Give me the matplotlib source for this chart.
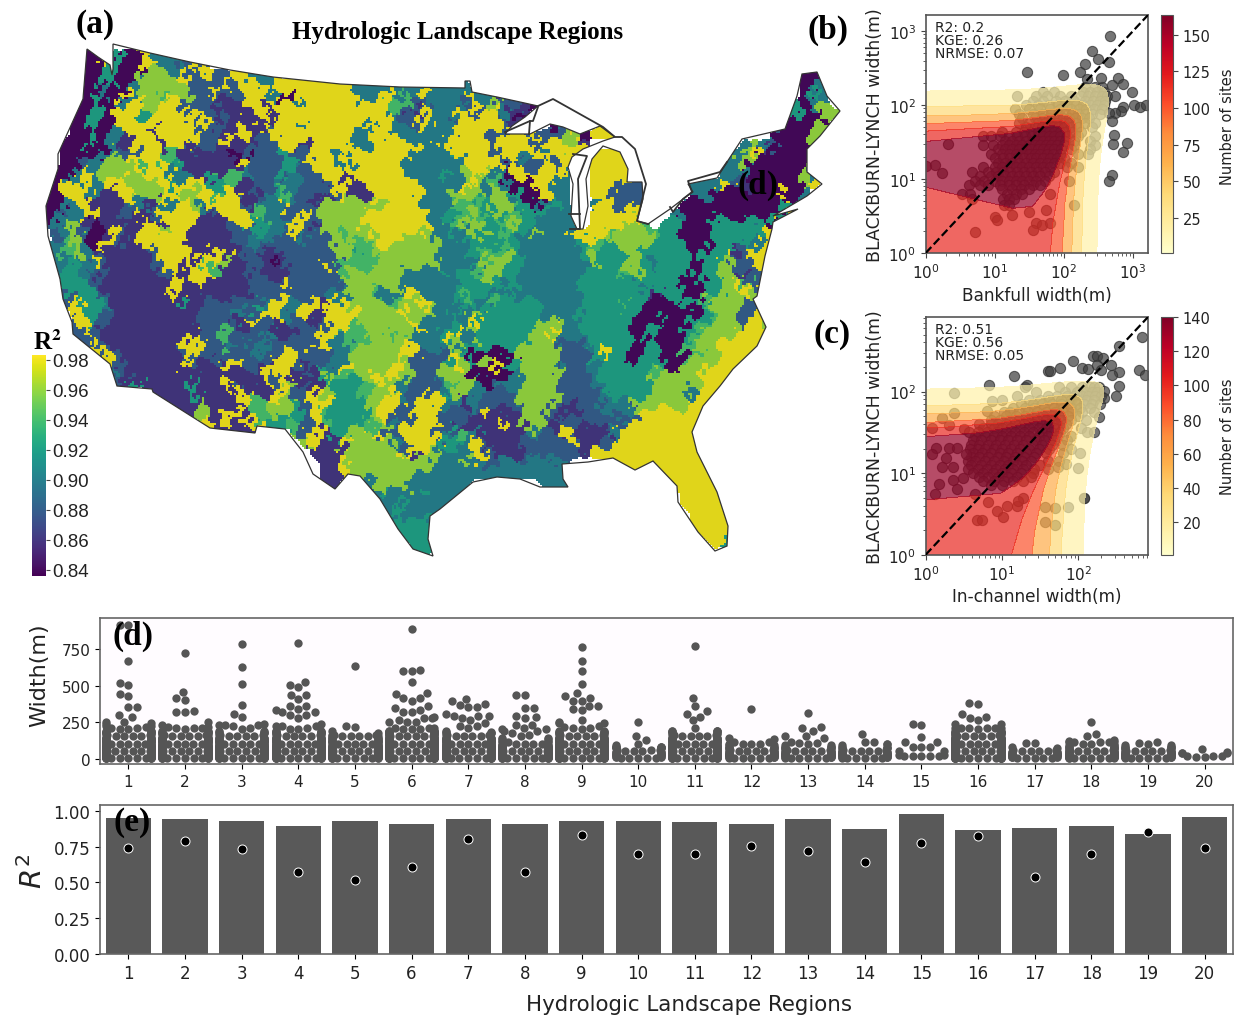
import numpy as np
import matplotlib
matplotlib.use("Agg")
import matplotlib.pyplot as plt
import seaborn as sns
from matplotlib.cm import ScalarMappable
from matplotlib.colors import ListedColormap, Normalize
from matplotlib.patches import Polygon

W, H = 1238, 1020

# map: R2 class of each 10 px cell, 0 -> 0.84 ... 7 -> 0.98, "." = no data
map_x0, map_x1, map_y0, map_y1 = 40, 840, 40, 560
map_rows = [
    ".......... .......... .......... .......... .......... .......... .......... ..........",
    "....00.400 7333...... .......... .......... .......... .......... .......... ..........",
    "....007400 7733273... .......... .......... .......... .......... .......... ..........",
    "....004400 6663727227 7333...... .......... .......... .......... .......... ......003.",
    "....004003 6666722272 7737777777 7333333333 333....... .......... .......... ......033.",
    "....003073 6656622722 7773077777 7333735373 3373331... .......... .......... ......043.",
    "...0040037 6677222211 7717737777 7773755223 3327262210 .......... .......... .....4036.",
    "...0040777 4777772121 1771777777 7777732173 337277310. .......... .......... .....40066",
    "...0040777 7777727211 1117773777 7773732273 32777721.. .03...7... .......... ....00060.",
    "...0040317 7177772217 7127777777 7337733333 3777727727 22660777.. .......... ...000066.",
    "..00400317 7717722271 1222771777 7337777737 3777727772 77671..... .......... 363200066.",
    "..00003622 7755111110 0222422773 3777777333 3477727737 3777.7777. .........3 671000063.",
    "..00236667 5754111111 7222442773 7377773333 3337772722 727..7777. ........33 600000063.",
    ".003736666 7773311155 3222432277 1777773333 4367630772 773..7777. ........33 30000063..",
    ".073737776 6674774445 1222332227 7177777733 3376353007 733..77722 2....33372 10000067..",
    ".077731177 6677667577 1124532212 7117777733 3666366400 733..77222 2....33000 0000703...",
    "0033711123 3133763777 2133722166 6666677733 3555466340 343..37227 2...000000 0000403...",
    "0023771127 1277771277 7553227266 6677777773 4456546544 4333.77777 ...3000000 000477....",
    "0336101711 7117711112 7443372166 6677777773 3566445643 3333.77776 5.44000444 44407.....",
    ".236201721 7767711112 2433273266 5667777763 3434645436 3337776566 6544000444 4377......",
    ".356307211 7777111112 2322222226 6556766666 3334445433 3333454666 6444400444 4377......",
    ".356321111 1277717771 2211222222 6455666666 3344556433 3333464446 4444404471 277.......",
    ".334372111 1277175761 1210122272 5556666666 3333666433 3333364466 4344404462 277.......",
    ".344321111 1127177511 1211122227 5666663333 4345664433 3333444456 4444404466 1277......",
    "..44421111 1117117111 1222722222 6666663333 3344443433 3333444444 3444004467 5277......",
    "..24442111 1117111111 1222222223 3665337733 3454434333 3333444444 4144000466 7627......",
    "..27443111 1111412222 2437737717 7666656676 3343354444 3333444454 0000445666 227.......",
    "...7742111 1111112223 3277327177 7766667663 3436444444 3333444444 0040004566 277.......",
    "...2742111 1111112221 1721122127 7566666733 3437444444 6633444440 0400045666 2766......",
    "...2721111 1111172252 2223112277 5556656373 4736444446 6733444440 0400456667 7776......",
    "....272111 1111772253 2332222773 3566667333 3634444466 6622347440 4400566677 777.......",
    ".....27211 1111272222 2322772223 3666667722 2640000066 6622247440 4400056677 77........",
    "......7211 1111721177 2217721223 7666676222 4764674466 6322234440 4400566777 7.........",
    ".......321 1111111111 1172712146 5667676222 6600000366 6622234444 4566667777 ..........",
    ".......214 1111141171 2172761164 4456763222 3563023366 6622234444 466636777. ..........",
    ".......... .111141117 7117622764 4456673227 4663222366 6622223444 46666377.. ..........",
    ".......... ..11116111 7556642774 4446772277 3313222266 6211223336 66666777.. ..........",
    ".......... ....166177 1556642754 4446722777 2221711166 6211222332 7777777... ..........",
    ".......... ......7171 7744452754 4455632777 2211117166 2122112227 7777777... ..........",
    ".......... .......111 11...62714 4667227772 3453111113 2177111377 777777.... ..........",
    ".......... .......... ......6711 7666632777 4437211122 2222112777 777777.... ..........",
    ".......... .......... .......111 6666667176 3337721123 2222177777 7777777... ..........",
    ".......... .......... ........11 7666666663 3363223333 333....777 7777777... ..........",
    ".......... .......... ........11 7666666633 3333333333 333....... ..777777.. ..........",
    ".......... .......... ........11 .333666333 333....... 333....... ...77777.. ..........",
    ".......... .......... .......... ...3433343 33........ .......... ....77777. ..........",
    ".......... .......... .......... ....334333 3......... .......... ....77777. ..........",
    ".......... .......... .......... ....343333 .......... .......... .....7777. ..........",
    ".......... .......... .......... .....44444 .......... .......... .....7777. ..........",
    ".......... .......... .......... ......4444 .......... .......... ......777. ..........",
    ".......... .......... .......... .......444 .......... .......... .......74. ..........",
    ".......... .......... .......... .......44. .......... .......... .......... ..........",
]

# country outline, picture pixels
outline_x = [87, 98, 110, 112, 113, 113, 150, 190, 230, 273, 340, 400, 465, 465, 470, 472, 497, 520, 538,
             525, 512, 505, 530, 550, 563, 580, 600, 615, 603, 583, 572, 568, 573, 571, 577, 583, 588, 586,
             592, 603, 620, 628, 627, 642, 643, 637, 648, 670, 687, 693, 688, 717, 727, 742, 785, 797, 802,
             817, 827, 840, 820, 807, 807, 822, 807, 773, 798, 773, 772, 765, 757, 753, 766, 757, 733, 720,
             703, 692, 697, 717, 728, 727, 715, 698, 678, 677, 653, 635, 613, 588, 562, 563, 568, 540, 520,
             497, 473, 440, 430, 428, 433, 413, 398, 380, 360, 348, 335, 313, 303, 285, 257, 255, 210, 153,
             152, 117, 110, 73, 72, 63, 60, 48, 46, 58, 58, 83]
outline_y = [50, 58, 66, 76, 70, 45, 54, 63, 71, 78, 85, 88, 89, 82, 82, 93, 98, 103, 107,
             118, 127, 135, 135, 125, 128, 135, 127, 138, 142, 150, 158, 168, 185, 217, 230, 230, 207, 180,
             160, 147, 153, 170, 183, 183, 200, 222, 225, 210, 197, 193, 185, 179, 163, 140, 130, 97, 75,
             73, 97, 112, 137, 150, 173, 185, 197, 217, 210, 223, 230, 257, 297, 300, 328, 347, 370, 387,
             407, 433, 453, 493, 527, 547, 552, 533, 503, 487, 462, 471, 459, 463, 465, 480, 488, 488, 480,
             478, 483, 510, 517, 540, 557, 550, 530, 500, 477, 475, 490, 475, 453, 430, 427, 434, 429, 393,
             390, 387, 365, 335, 323, 300, 280, 237, 207, 170, 155, 100]

# open-water lines around the lakes
lake_x = [[538, 553, 603, 615, 622, 635, 646, 637, 648], [505, 530, 533, 538], [530, 529],
          [573, 587, 578, 580, 570], [569, 580], [670, 673, 683, 692, 688, 720, 727]]
lake_y = [[107, 100, 128, 138, 138, 150, 185, 222, 225], [133, 122, 122, 108], [122, 135],
          [155, 157, 180, 230, 230], [215, 215], [208, 213, 200, 193, 182, 173, 163]]

# (b) log10 of widths, listed by rows of log10 model width
b_y_levels = [2.25, 2.18, 2.12, 2.06, 2.0, 1.94, 1.88, 1.82, 1.76, 1.7, 1.64, 1.58, 1.52, 1.46, 1.4, 1.34,
              1.28, 1.22, 1.16, 1.1, 1.04, 0.98, 0.92, 0.86, 0.8, 0.73, 0.65]
b_x_rows = [
    [2.30, 2.45, 2.55],
    [1.70, 1.85, 2.28, 2.38, 2.48, 2.58],
    [1.32, 1.6, 1.75, 1.95, 2.1, 2.25, 2.35, 2.45, 2.55, 2.62],
    [1.55, 1.7, 1.88, 2.02, 2.15, 2.3, 2.42, 2.52, 2.6],
    [1.45, 1.62, 1.78, 1.92, 2.05, 2.18, 2.28, 2.38, 2.48, 2.58],
    [1.29, 1.5, 1.65, 1.8, 1.95, 2.1, 2.22, 2.32, 2.44, 2.55],
    [1.35, 1.55, 1.7, 1.82, 1.92, 2.02, 2.12, 2.2, 2.3, 2.4, 2.52],
    [1.4, 1.58, 1.68, 1.78, 1.88, 1.98, 2.08, 2.16, 2.26, 2.36],
    [1.35, 1.5, 1.62, 1.72, 1.82, 1.9, 2.0, 2.08, 2.18, 2.3, 2.45],
    [1.45, 1.58, 1.68, 1.76, 1.84, 1.92, 2.0, 2.1, 2.2, 2.4],
    [1.1, 1.3, 1.42, 1.52, 1.62, 1.7, 1.78, 1.86, 1.94, 2.02, 2.12, 2.25],
    [0.83, 0.95, 1.08, 1.2, 1.32, 1.44, 1.54, 1.62, 1.7, 1.78, 1.86, 1.95, 2.05, 2.2, 2.45],
    [1.15, 1.25, 1.35, 1.45, 1.55, 1.62, 1.7, 1.78, 1.86, 1.94, 2.02, 2.15, 2.38],
    [0.83, 0.97, 1.1, 1.2, 1.3, 1.4, 1.5, 1.58, 1.66, 1.74, 1.82, 1.9, 2.0, 2.15, 2.45],
    [1.05, 1.15, 1.25, 1.35, 1.45, 1.53, 1.62, 1.7, 1.78, 1.86, 1.96, 2.1, 2.38],
    [0.95, 1.1, 1.2, 1.3, 1.4, 1.5, 1.58, 1.66, 1.75, 1.84, 1.95, 2.2, 2.35],
    [1.0, 1.12, 1.22, 1.32, 1.42, 1.52, 1.6, 1.7, 1.8, 1.9, 2.0],
    [1.05, 1.15, 1.25, 1.35, 1.45, 1.55, 1.65, 1.75, 1.85, 1.95, 2.1],
    [0.83, 1.0, 1.1, 1.2, 1.3, 1.4, 1.5, 1.6, 1.7, 1.8, 2.05, 2.2],
    [0.67, 0.9, 1.02, 1.12, 1.22, 1.32, 1.42, 1.52, 1.62, 1.72, 1.85],
    [0.78, 0.95, 1.05, 1.15, 1.25, 1.35, 1.45, 1.55, 1.65, 1.78],
    [0.72, 0.85, 1.0, 1.1, 1.2, 1.3, 1.4, 1.5, 1.6, 1.72, 2.08],
    [0.62, 0.78, 0.9, 1.08, 1.2, 1.3, 1.42, 1.55, 1.65],
    [1.1, 1.25, 1.38, 1.5],
    [0.52, 0.64, 1.18, 1.3, 1.4, 1.8],
    [0.67, 1.12, 1.2, 1.28],
    [1.14, 1.2, 2.14],
]
b_extra_x = [2.67, 2.41, 2.31, 2.50, 2.65, 2.24, 1.99, 1.46, 2.34, 2.53, 2.79, 2.70, 2.86, 2.99, 2.74, 3.02, 3.10,
             3.19, 2.86, 2.82, 2.74, 2.65, 2.70, 2.72, 2.71, 2.91, 2.85, 2.69, 2.66, 0.32, 0.01, 0.13, 0.23, 0.72,
             1.0, 1.03, 1.25, 1.49, 1.74, 1.6, 1.56, 1.68, 1.8]
b_extra_y = [2.94, 2.73, 2.56, 2.62, 2.58, 2.45, 2.41, 2.45, 2.35, 2.36, 2.36, 2.27, 2.29, 2.18, 2.12, 2.0, 1.97,
             2.0, 1.98, 1.92, 1.89, 1.89, 1.79, 1.60, 1.47, 1.49, 1.37, 1.06, 0.97, 1.48, 1.18, 1.19, 1.08, 0.29,
             0.48, 0.45, 0.52, 0.55, 0.58, 0.41, 0.31, 0.38, 0.41]

# (c) same layout
c_y_levels = [2.05, 2.0, 1.95, 1.9, 1.85, 1.8, 1.75, 1.7, 1.65, 1.6, 1.55, 1.5, 1.45, 1.4, 1.35, 1.3, 1.25, 1.2,
              1.15, 1.1, 1.05, 1.0, 0.95, 0.9, 0.85]
c_x_rows = [
    [1.3, 1.75, 1.9, 2.05, 2.15, 2.2, 2.27],
    [1.45, 1.82, 1.98, 2.1, 2.18, 2.25],
    [1.2, 1.6, 1.72, 1.85, 1.95, 2.05, 2.13, 2.22, 2.3],
    [1.0, 1.35, 1.5, 1.62, 1.78, 1.9, 2.0, 2.1, 2.2],
    [1.25, 1.4, 1.52, 1.65, 1.78, 1.88, 1.98, 2.08, 2.18, 2.28],
    [1.15, 1.3, 1.42, 1.55, 1.68, 1.8, 1.9, 2.02, 2.15],
    [1.02, 1.1, 1.22, 1.34, 1.46, 1.58, 1.7, 1.8, 1.92, 2.05, 2.2],
    [0.9, 1.05, 1.18, 1.3, 1.42, 1.54, 1.65, 1.75, 1.87, 2.0],
    [0.85, 0.98, 1.1, 1.22, 1.34, 1.46, 1.58, 1.68, 1.78, 1.9, 2.1],
    [0.7, 0.85, 0.95, 1.05, 1.17, 1.29, 1.41, 1.52, 1.62, 1.72, 1.84],
    [0.75, 0.9, 1.0, 1.12, 1.24, 1.36, 1.48, 1.58, 1.68, 1.8, 2.03],
    [0.68, 0.8, 0.93, 1.05, 1.17, 1.29, 1.41, 1.53, 1.64, 1.76, 2.12],
    [0.65, 0.78, 0.9, 1.0, 1.12, 1.24, 1.36, 1.48, 1.6, 1.72, 1.9],
    [0.62, 0.72, 0.85, 0.97, 1.08, 1.2, 1.32, 1.44, 1.55, 1.68, 1.85],
    [0.6, 0.7, 0.82, 0.92, 1.04, 1.16, 1.28, 1.4, 1.52, 1.65, 1.8],
    [0.58, 0.68, 0.78, 0.9, 1.0, 1.12, 1.24, 1.36, 1.48, 1.62, 1.9],
    [0.62, 0.74, 0.85, 0.97, 1.08, 1.2, 1.32, 1.44, 1.58, 1.8],
    [0.6, 0.7, 0.82, 0.95, 1.05, 1.17, 1.29, 1.42],
    [0.55, 0.65, 0.78, 0.9, 1.02, 1.14, 1.26, 1.38, 1.6, 1.75],
    [0.6, 0.72, 0.85, 0.97, 1.08, 1.2, 1.32, 1.5],
    [0.55, 0.68, 0.8, 0.92, 1.04, 1.15, 1.28, 1.42, 1.6],
    [0.62, 0.75, 0.88, 1.0, 1.12, 1.25, 1.4],
    [0.7, 0.82, 0.95, 1.08, 1.2, 1.38],
    [0.75, 0.9, 1.02, 1.15, 1.28],
    [0.85, 1.0],
]
c_extra_x = [2.84, 2.53, 2.19, 2.25, 2.32, 1.93, 1.76, 1.6, 1.63, 1.16, 0.83, 1.33, 2.05, 2.13, 2.25, 2.43, 2.3, 2.53,
             2.44, 2.79, 2.88, 2.54, 2.49, 2.34, 2.34, 2.27, 2.21, 2.08, 0.37, 0.87, 0.8, 0.37, 0.22, 0.3, 0.08, 0.5,
             0.57, 0.14, 0.08, 0.3, 0.41, 0.26, 0.53, 0.21, 0.36, 0.36, 0.49, 0.41, 0.17, 0.12, 0.64, 0.82, 0.93,
             1.06, 1.2, 1.27, 1.21, 0.67, 0.74, 1.01, 1.56, 1.69, 1.87, 1.56, 1.7, 1.99, 2.02, 1.84, 1.73, 2.07]
c_extra_y = [2.67, 2.56, 2.43, 2.44, 2.41, 2.37, 2.29, 2.25, 2.25, 2.19, 2.08, 2.08, 2.29, 2.28, 2.33, 2.33, 2.26, 2.24,
             2.2, 2.26, 2.2, 2.07, 1.95, 2.01, 1.92, 1.69, 1.5, 0.7, 1.98, 1.88, 1.76, 1.74, 1.67, 1.59, 1.55, 1.54,
             1.51, 1.31, 1.23, 1.31, 1.31, 1.19, 1.23, 1.07, 1.07, 0.92, 0.94, 0.8, 0.87, 0.75, 0.74, 0.64, 0.54,
             0.6, 0.6, 0.7, 0.66, 0.43, 0.43, 0.46, 0.59, 0.57, 0.59, 0.4, 0.37, 1.06, 1.25, 1.11, 1.07, 0.7]

# (d) widths per region: rows of small widths as counts, larger ones listed
bulk_levels = [5, 25, 45, 65, 85, 105, 125, 145, 165, 185, 205]
bulk_levels_alt = [15, 35, 55, 75, 95, 115, 135, 155, 175, 195, 215]
bulk_counts = [
    [12, 11, 10, 9, 8, 7, 6, 5, 4, 3, 2],
    [11, 10, 9, 8, 7, 6, 5, 5, 4, 3, 1],
    [11, 10, 9, 8, 7, 6, 5, 4, 3, 2, 1],
    [12, 11, 10, 9, 8, 7, 6, 5, 4, 3, 2],
    [10, 9, 8, 7, 6, 5, 4, 3, 1, 0, 0],
    [15, 14, 13, 11, 10, 9, 7, 7, 6, 5, 3],
    [13, 12, 10, 8, 7, 6, 5, 4, 3, 2, 0],
    [11, 9, 7, 6, 5, 4, 2, 2, 1, 0, 0],
    [14, 12, 10, 9, 8, 7, 6, 5, 4, 3, 1],
    [5, 4, 4, 3, 2, 0, 0, 0, 0, 0, 0],
    [11, 10, 8, 7, 7, 6, 5, 4, 3, 1, 0],
    [6, 6, 5, 4, 2, 1, 0, 0, 0, 0, 0],
    [6, 6, 5, 4, 3, 1, 0, 0, 0, 0, 0],
    [6, 5, 5, 3, 2, 0, 0, 0, 0, 0, 0],
    [0, 0, 0, 0, 0, 0, 0, 0, 0, 0, 0],
    [16, 15, 13, 12, 11, 9, 7, 5, 4, 3, 1],
    [5, 6, 4, 2, 0, 0, 0, 0, 0, 0, 0],
    [8, 7, 6, 4, 3, 2, 0, 0, 0, 0, 0],
    [6, 6, 5, 3, 2, 0, 0, 0, 0, 0, 0],
    [0, 0, 0, 0, 0, 0, 0, 0, 0, 0, 0],
]
bulk_counts_alt = [
    [10, 9, 8, 7, 6, 5, 4, 4, 4, 3, 1],
    [9, 8, 8, 7, 6, 5, 5, 4, 3, 2, 1],
    [9, 8, 8, 7, 6, 5, 4, 4, 3, 2, 0],
    [10, 9, 8, 7, 6, 5, 5, 4, 4, 3, 1],
    [8, 7, 6, 6, 5, 4, 3, 2, 1, 0, 0],
    [13, 12, 11, 10, 9, 7, 7, 6, 5, 5, 3],
    [11, 10, 9, 8, 7, 6, 5, 4, 3, 1, 0],
    [9, 8, 7, 6, 5, 3, 2, 1, 1, 0, 0],
    [12, 10, 10, 8, 7, 6, 5, 4, 3, 2, 1],
    [4, 4, 3, 2, 1, 0, 0, 0, 0, 0, 0],
    [9, 8, 8, 7, 6, 5, 4, 4, 2, 1, 0],
    [5, 5, 4, 4, 2, 1, 0, 0, 0, 0, 0],
    [5, 5, 4, 3, 2, 1, 0, 0, 0, 0, 0],
    [5, 5, 4, 3, 1, 0, 0, 0, 0, 0, 0],
    [0, 0, 0, 0, 0, 0, 0, 0, 0, 0, 0],
    [14, 13, 13, 12, 11, 9, 7, 5, 4, 2, 1],
    [5, 5, 4, 1, 0, 0, 0, 0, 0, 0, 0],
    [7, 7, 5, 4, 3, 1, 0, 0, 0, 0, 0],
    [6, 6, 5, 3, 1, 0, 0, 0, 0, 0, 0],
    [0, 0, 0, 0, 0, 0, 0, 0, 0, 0, 0],
]
tail_values = [
    [915, 915, 670, 520, 505, 445, 430, 355, 355, 300, 285, 255, 245, 225, 220, 210, 225, 240, 255],
    [725, 460, 415, 405, 330, 320, 325, 255, 235, 220, 220, 210, 210],
    [790, 630, 515, 370, 310, 285, 235, 235, 225, 235, 240, 215],
    [795, 525, 505, 490, 440, 440, 410, 360, 365, 340, 320, 335, 320, 300, 300, 280, 225, 240, 225, 225],
    [635, 225, 220, 195, 165, 160, 160, 160, 155, 165],
    [890, 605, 605, 610, 530, 445, 450, 420, 420, 400, 360, 350, 335, 325, 325, 290, 280, 270, 280, 255, 255, 255],
    [410, 400, 370, 375, 355, 355, 310, 295, 295, 295, 280, 245, 225, 265, 225, 210],
    [440, 440, 350, 350, 295, 285, 280, 235, 235, 210, 205, 205, 190, 190],
    [765, 670, 600, 515, 450, 430, 420, 400, 400, 360, 340, 360, 335, 270, 245, 255, 245, 220, 210, 225],
    [255, 160, 130, 85, 75, 80, 85, 85, 105],
    [773, 420, 365, 330, 310, 290, 265, 210, 190, 190, 195, 190, 170],
    [343, 115, 135, 145, 105, 105, 105],
    [318, 218, 210, 190, 160, 160, 145, 110, 110],
    [170, 116, 116, 100, 102],
    [240, 230, 148, 114, 114, 82, 82, 82, 52, 52, 30, 30, 18, 18, 18, 18, 18],
    [385, 375, 310, 290, 280, 268, 240, 240, 210, 210, 210, 210, 210],
    [113, 113, 85],
    [252, 170, 155, 127, 120, 115, 115, 115, 115],
    [115, 110, 105, 98, 82],
    [41, 41, 14, 68, 18, 18, 41, 45, 14, 20],
]

# (e) R2 per region
region_labels = list(range(1, 21))
r2_bars = [0.95, 0.94, 0.93, 0.89, 0.93, 0.91, 0.94, 0.91, 0.93, 0.93, 0.92, 0.91, 0.94, 0.87, 0.98, 0.865, 0.88,
           0.89, 0.835, 0.955]
r2_dots = [0.74, 0.79, 0.73, 0.57, 0.52, 0.61, 0.80, 0.575, 0.83, 0.70, 0.70, 0.755, 0.72, 0.64, 0.775, 0.825,
           0.535, 0.70, 0.855, 0.74]

plt.rcParams["text.color"] = "#222222"
plt.rcParams["axes.labelcolor"] = "#222222"
plt.rcParams["xtick.labelcolor"] = "#222222"
plt.rcParams["ytick.labelcolor"] = "#222222"

fig = plt.figure(figsize=(W / 100, H / 100), dpi=100)


def axes_px(left, top, right, bottom):
    return fig.add_axes([left / W, 1 - bottom / H, (right - left) / W, (bottom - top) / H])


def text_px(x, y, s, **kw):
    fig.text(x / W, 1 - y / H, s, ha="center", va="center", **kw)


def rough_classes(cells, factor=5):
    # blocky cells -> irregular patches: local majority, then wobbled lookup
    fine = np.kron(cells, np.ones((factor, factor), dtype=int))
    kernel = np.ones(factor) / factor
    scores = []
    for k in range(9):
        m = (fine == k).astype(float)
        m = np.apply_along_axis(np.convolve, 0, m, kernel, mode="same")
        m = np.apply_along_axis(np.convolve, 1, m, kernel, mode="same")
        scores.append(m)
    major = np.argmax(scores, axis=0)
    yy, xx = np.indices(major.shape)
    dx = 1.8 * np.sin(xx / 1.3 + yy / 1.9) + 1.6 * np.sin(yy / 3.1 - xx / 4.3) + 0.9 * np.sin(xx * 1.3 - yy * 0.9)
    dy = 1.8 * np.sin(yy / 1.4 - xx / 2.1) + 1.6 * np.sin(xx / 3.3 + yy / 4.7) + 0.9 * np.sin(yy * 1.2 + xx * 1.1)
    ix = np.clip(np.round(xx + dx).astype(int), 0, major.shape[1] - 1)
    iy = np.clip(np.round(yy + dy).astype(int), 0, major.shape[0] - 1)
    # lakes and the ocean keep their place
    return np.where(major == 8, 8, np.where(major[iy, ix] == 8, major, major[iy, ix]))


def kde_linear(x, y, grid_x, grid_y, factor):
    # gaussian kde in metres, the axes are log only for display
    inv = np.linalg.inv(np.cov(x, y) * factor ** 2)
    gx, gy = np.meshgrid(grid_x, grid_y)
    z = np.zeros_like(gx)
    for px, py in zip(x, y):
        dx = gx - px
        dy = gy - py
        z += np.exp(-0.5 * (inv[0, 0] * dx * dx + 2 * inv[0, 1] * dx * dy + inv[1, 1] * dy * dy))
    return gx, gy, z


def kde_at(x, y, ax_, ay_, factor):
    inv = np.linalg.inv(np.cov(x, y) * factor ** 2)
    dx = ax_ - x
    dy = ay_ - y
    return np.exp(-0.5 * (inv[0, 0] * dx * dx + 2 * inv[0, 1] * dx * dy + inv[1, 1] * dy * dy)).sum()


def flatten_rows(levels, rows, extra_x, extra_y):
    xs = [v for row in rows for v in row] + list(extra_x)
    ys = [lev for lev, row in zip(levels, rows) for _ in row] + list(extra_y)
    return 10 ** np.array(xs), 10 ** np.array(ys)


def density_panel(box, cbar_box, x, y, lim, grid_top, factor, anchors, stats, xlabel, cb_range, cb_ticks, label_y):
    ax = axes_px(*box)
    ax.scatter(x, y, s=54, color="#404040", alpha=0.72, edgecolors="#303030", linewidths=0.8, zorder=1)
    gx, gy, z = kde_linear(x, y, np.linspace(1, grid_top[0], 100), np.linspace(1, grid_top[1], 100), factor)
    levels = [kde_at(x, y, a, b, factor) for a, b in anchors]
    levels = list(np.maximum.accumulate(levels) * (1 + 1e-3 * np.arange(len(levels))))
    levels += [levels[-1] + 0.45 * (z.max() - levels[-1]), z.max() * 1.01]
    fractions = [0.1, 0.25, 0.4, 0.62, 0.72, 0.95, 1.0]
    cmap = plt.get_cmap("YlOrRd")
    ax.contourf(gx, gy, z, levels=levels, colors=[cmap(f) for f in fractions], alpha=0.7, zorder=2)
    ax.plot([1, lim], [1, lim], color="k", ls="--", lw=1.6, zorder=3)
    ax.set_xscale("log")
    ax.set_yscale("log")
    ax.set_xlim(1, lim)
    ax.set_ylim(1, lim)
    ax.tick_params(labelsize=11, color="#444444")
    ax.tick_params(which="minor", color="#444444")
    for sp in ax.spines.values():
        sp.set_color("#555555")
        sp.set_linewidth(1.2)
    ax.set_xlabel(xlabel, fontsize=12.2, labelpad=3)
    ax.set_ylabel("BLACKBURN-LYNCH width(m)", fontsize=12.5, labelpad=3)
    ax.text(0.042, 0.98, stats, transform=ax.transAxes, va="top", ha="left", fontsize=10, linespacing=0.92,
            zorder=5)
    cax = axes_px(*cbar_box)
    sm = ScalarMappable(norm=Normalize(*cb_range), cmap=cmap)
    cb = fig.colorbar(sm, cax=cax, ticks=cb_ticks)
    cb.ax.tick_params(labelsize=10.5, length=3.5, color="#444444")
    cb.outline.set_edgecolor("#555555")
    cb.set_label("Number of sites", fontsize=10.5, labelpad=7, y=label_y)


# (a) map in picture pixels
ax_map = fig.add_axes([0, 0, 1, 1])
ax_map.set_xlim(0, W)
ax_map.set_ylim(H, 0)
ax_map.axis("off")

digits = [[ch for g in row.split() for ch in g.ljust(10, ".")[:10]] for row in map_rows]
cells = np.array([[8 if ch == "." else int(ch) for ch in row] for row in digits])
classes = rough_classes(cells)
map_values = np.ma.masked_where(classes == 8, 0.84 + 0.02 * classes)
map_norm = Normalize(0.836, 0.983)
viridis_dim = ListedColormap(plt.get_cmap("viridis")(np.linspace(0, 1, 256))[:, :3] * 0.93)
land = Polygon(np.column_stack([outline_x, outline_y]), closed=True, fc="none", ec="#333333", lw=0.9, zorder=3)
ax_map.add_patch(land)
im = ax_map.imshow(map_values, cmap=viridis_dim, norm=map_norm, extent=(map_x0, map_x1, map_y1, map_y0),
                   interpolation="nearest", aspect="auto", zorder=2)
im.set_clip_path(land)
for lx, ly in zip(lake_x, lake_y):
    ax_map.plot(lx, ly, color="#333333", lw=1.3, zorder=3)
ax_map.set_xlim(0, W)
ax_map.set_ylim(H, 0)

cax_map = axes_px(32, 356, 46, 577)
cb_map = fig.colorbar(ScalarMappable(norm=map_norm, cmap="viridis"), cax=cax_map,
                      ticks=[0.84, 0.86, 0.88, 0.90, 0.92, 0.94, 0.96, 0.98], format="%.2f")
cb_map.outline.set_visible(False)
cb_map.ax.tick_params(length=3, pad=1.5, labelsize=13.5, color="#444444")
for t in cb_map.ax.get_yticklabels():
    t.set_fontfamily("Liberation Sans")

# (b), (c)
b_x, b_y = flatten_rows(b_y_levels, b_x_rows, b_extra_x, b_extra_y)
density_panel((925.7, 16, 1148, 254), (1161, 16, 1173, 254), b_x, b_y, 1650, (1700, 1000), 0.55,
              [(300, 1), (180, 1), (130, 1), (95, 1), (1, 45)],
              "R2: 0.2\nKGE: 0.26\nNRMSE: 0.07", "Bankfull width(m)", (1.2, 163.4), [25, 50, 75, 100, 125, 150], 0.535)
c_x, c_y = flatten_rows(c_y_levels, c_x_rows, c_extra_x, c_extra_y)
density_panel((925.7, 318, 1148, 555.7), (1161, 318, 1173, 555.7), c_x, c_y, 820, (850, 500), 0.5,
              [(115, 1), (60, 1), (42, 1), (25, 1), (1, 36)],
              "R2: 0.51\nKGE: 0.56\nNRMSE: 0.05", "In-channel width(m)", (1, 140), [20, 40, 60, 80, 100, 120, 140], 0.5)

# (d) swarm
swarm_x = []
swarm_y = []
for label, counts, counts_alt, tail in zip(region_labels, bulk_counts, bulk_counts_alt, tail_values):
    vals = list(np.repeat(bulk_levels, counts)) + list(np.repeat(bulk_levels_alt, counts_alt)) + tail
    swarm_x += [label] * len(vals)
    swarm_y += vals
ax_d = axes_px(100, 619, 1233, 765)
ax_d.set_facecolor("#fffcff")
sns.swarmplot(x=swarm_x, y=swarm_y, order=region_labels, color="#555555", size=6, ax=ax_d, warn_thresh=1)
ax_d.set_xlim(-0.5, 19.5)
ax_d.set_ylim(-34, 965)
ax_d.set_yticks([0, 250, 500, 750])
ax_d.set_ylabel("Width(m)", fontsize=16, labelpad=9, y=0.616)
ax_d.tick_params(labelsize=11)

# (e) bars and points
ax_e = axes_px(100, 806, 1233, 955)
ax_e.bar(np.arange(20), r2_bars, width=0.8, color="#595959")
ax_e.scatter(np.arange(20), r2_dots, s=42, color="k", edgecolors="white", linewidths=0.7, zorder=3)
ax_e.set_xlim(-0.5, 19.5)
ax_e.set_ylim(0, 1.04)
ax_e.set_xticks(np.arange(20))
ax_e.set_xticklabels(region_labels)
ax_e.set_yticks([0, 0.25, 0.5, 0.75, 1.0])
ax_e.set_yticklabels(["0.00", "0.25", "0.50", "0.75", "1.00"])
ax_e.tick_params(labelsize=12)
ax_e.set_ylabel("$R^2$", fontsize=21, labelpad=4, y=0.56)
ax_e.set_xlabel("Hydrologic Landscape Regions", fontsize=15.4, labelpad=9, x=0.52)
for ax in (ax_d, ax_e):
    for sp in ax.spines.values():
        sp.set_color("#666666")
        sp.set_linewidth(1.2)

# titles and panel letters
serif = dict(family="Liberation Serif", fontweight="bold", color="black")
text_px(458, 32, "Hydrologic Landscape Regions", fontsize=18, **serif)
text_px(95, 24, "(a)", fontsize=24, **serif)
text_px(828, 30, "(b)", fontsize=24, **serif)
text_px(832, 335, "(c)", fontsize=24, **serif)
text_px(758, 185, "(d)", fontsize=24, **serif)
text_px(133, 636, "(d)", fontsize=24, **serif)
text_px(132, 822, "(e)", fontsize=24, **serif)
fig.text(33 / W, 1 - 350 / H, r"R$^{\mathbf{2}}$", fontsize=18, ha="left", va="baseline", math_fontfamily="stix",
         **serif)

fig.savefig("out.png", dpi=100)
